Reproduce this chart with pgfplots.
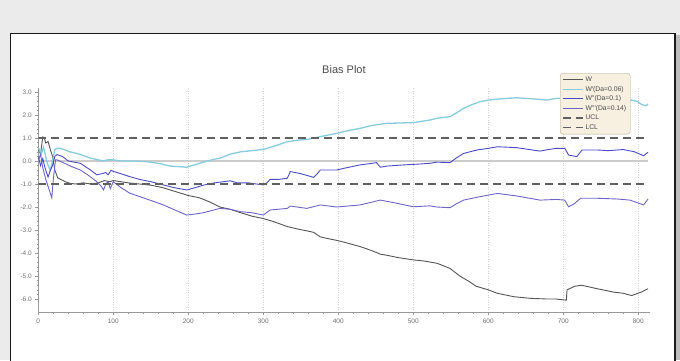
\documentclass[border=0pt]{standalone}
\usepackage{pgfplots}
\pgfplotsset{compat=1.18}
\usepackage{fontspec}
\setmainfont{Liberation Sans}
\definecolor{bgc}{HTML}{EBEBEB}
\definecolor{shc}{HTML}{BDBDBD}
\definecolor{wc}{HTML}{555555}
\definecolor{cyc}{HTML}{86CCDD}
\definecolor{b1c}{HTML}{4B4BC3}
\definecolor{b2c}{HTML}{6E64C8}
\definecolor{dashc}{HTML}{606060}
\definecolor{gridc}{HTML}{D0D0D8}
\definecolor{zeroc}{HTML}{CCCCCC}
\definecolor{legc}{HTML}{F7F0E1}
\definecolor{legb}{HTML}{B8A890}
\definecolor{labc}{HTML}{707070}
\begin{document}
\begin{tikzpicture}
\useasboundingbox (0pt,0pt) rectangle (680pt,360pt);
\fill[bgc] (0pt,0pt) rectangle (680pt,360pt);
\fill[shc] (675pt,0pt) rectangle (680pt,325pt);
\filldraw[fill=white, draw=black!90, line width=1.2pt] (10.5pt,-5pt) rectangle (675pt,326.5pt);
\begin{axis}[
  at={(38.3pt,48pt)}, anchor=south west,
  scale only axis, width=611.25pt, height=224pt,
  xmin=0, xmax=815, ymin=-6.565, ymax=3.174,
  axis x line=bottom, axis y line=left,
  axis line style={-, draw=black!40, line width=0.6pt},
  xtick={0,100,...,800}, ytick={-6,-5,...,3},
  minor x tick num=4, minor y tick num=4,
  tick align=outside, major tick length=3pt, minor tick length=1.5pt,
  tick style={black!40, line width=0.5pt},
  xmajorgrids, grid style={gridc, dotted, line width=0.7pt},
  yticklabel style={/pgf/number format/.cd, fixed, fixed zerofill, precision=1},
  /pgf/number format/assume math mode=true,
  ticklabel style={font=\fontsize{6.5}{7}\selectfont, text=labc},
  title={Bias Plot},
  title style={at={(axis description cs:0.5,1)}, anchor=base, yshift=9pt, font=\fontsize{11}{12}\selectfont, text=black!70},
  legend style={at={(0.8535,1.067)}, anchor=north west, fill=legc, draw=legb, rounded corners=3pt,
    font=\fontsize{6.8}{7.5}\selectfont, text=black!70, inner xsep=2pt, inner ysep=1.5pt, row sep=-0.8pt},
  legend cell align=left,
  legend image code/.code={\draw[#1] (0pt,0pt) -- (20pt,0pt);},
]
\addplot[forget plot, zeroc, line width=1.4pt] coordinates {(0,0) (813,0)};
\addplot[wc, line width=0.9pt] coordinates {
(0,0.5) (3,0.3) (6,1.05) (8,1.0) (10,0.78) (13,0.85) (16,0.5) (19,0.2) (22,-0.39) (26,-0.74) (30,-0.8) (36,-0.9) (42,-0.97) (50,-1.0) (60,-0.95) (70,-1.0) (80,-0.95) (88,-0.85) (95,-0.9) (100,-0.85) (110,-0.9) (120,-0.95) (135,-1.0) (150,-1.05) (165,-1.15) (180,-1.3) (190,-1.4) (200,-1.5) (215,-1.6) (230,-1.8) (242,-2.0) (256,-2.1) (270,-2.25) (285,-2.4) (300,-2.5) (315,-2.65) (332,-2.85) (345,-2.95) (360,-3.05) (367,-3.1) (376,-3.3) (390,-3.4) (398,-3.45) (410,-3.55) (429,-3.72) (445,-3.9) (456,-4.05) (465,-4.1) (480,-4.2) (500,-4.3) (515,-4.35) (532,-4.45) (549,-4.67) (562,-5.0) (575,-5.25) (584,-5.45) (600,-5.6) (612,-5.75) (634,-5.9) (656,-5.97) (678,-6.0) (690,-6.0) (704,-6.05) (705,-5.6) (715,-5.45) (724,-5.4) (745,-5.55) (767,-5.7) (780,-5.75) (791,-5.85) (804,-5.7) (813,-5.55)};
\addlegendentry{W}
\addplot[cyc, line width=1.3pt] coordinates {
(0,0.6) (4,0.3) (7,0.6) (12,-0.1) (16,-0.4) (19,0.0) (22,0.5) (25,0.55) (30,0.55) (42,0.4) (55,0.3) (69,0.13) (80,0.05) (87,0.0) (92,0.05) (100,0.05) (110,0.0) (125,0.0) (145,-0.03) (160,-0.1) (176,-0.22) (190,-0.25) (198,-0.27) (210,-0.15) (220,-0.05) (235,0.08) (242,0.12) (256,0.3) (270,0.4) (285,0.45) (300,0.5) (315,0.65) (332,0.84) (345,0.9) (360,0.95) (376,1.06) (390,1.15) (398,1.2) (410,1.3) (429,1.42) (445,1.55) (465,1.64) (480,1.65) (500,1.67) (510,1.72) (522,1.78) (532,1.86) (549,1.93) (558,2.1) (567,2.29) (578,2.45) (589,2.58) (600,2.65) (615,2.7) (638,2.75) (660,2.7) (678,2.65) (690,2.72) (705,2.75) (720,2.72) (740,2.7) (760,2.68) (780,2.7) (790,2.65) (798,2.6) (805,2.45) (810,2.4) (813,2.48)};
\addlegendentry{W\textquotesingle(Da=0.06)}
\addplot[b1c, line width=0.9pt] coordinates {
(0,0.2) (3,-0.2) (6,0.1) (9,-0.3) (13,-0.7) (16,-0.4) (19,-0.2) (22,0.2) (25,0.28) (32,0.2) (40,0.0) (56,-0.1) (70,-0.4) (78,-0.6) (85,-0.55) (90,-0.5) (93,-0.6) (97,-0.4) (100,-0.45) (110,-0.55) (122,-0.68) (135,-0.8) (150,-0.9) (167,-1.04) (180,-1.15) (198,-1.26) (210,-1.15) (220,-1.05) (235,-0.95) (256,-0.86) (265,-0.95) (280,-0.95) (300,-1.04) (305,-0.95) (309,-0.8) (320,-0.8) (332,-0.75) (336,-0.46) (350,-0.55) (367,-0.71) (372,-0.55) (376,-0.39) (398,-0.39) (410,-0.3) (429,-0.17) (445,-0.1) (451,-0.07) (456,-0.27) (465,-0.22) (487,-0.17) (509,-0.13) (522,-0.1) (531,-0.05) (549,-0.07) (556,0.1) (567,0.33) (585,0.48) (600,0.55) (612,0.62) (638,0.58) (669,0.43) (680,0.5) (691,0.55) (702,0.55) (707,0.26) (718,0.19) (725,0.48) (745,0.48) (760,0.45) (780,0.5) (795,0.4) (807,0.23) (813,0.38)};
\addlegendentry{W\textquotesingle\textquotesingle(Da=0.1)}
\addplot[b2c, line width=0.9pt] coordinates {
(0,0.0) (3,0.3) (6,-0.3) (10,-0.8) (14,-1.2) (18,-1.6) (20,-0.8) (23,0.05) (25,0.05) (35,-0.1) (45,-0.25) (56,-0.39) (68,-0.65) (78,-0.9) (84,-1.1) (87,-1.26) (90,-1.0) (93,-0.9) (96,-1.2) (100,-0.9) (110,-1.15) (122,-1.4) (140,-1.6) (167,-1.91) (180,-2.1) (198,-2.35) (210,-2.3) (220,-2.25) (242,-2.06) (256,-2.1) (269,-2.2) (285,-2.25) (300,-2.35) (309,-2.13) (332,-2.06) (336,-1.96) (358,-2.06) (376,-1.91) (398,-2.0) (429,-1.91) (442,-1.81) (456,-1.7) (474,-1.81) (500,-1.99) (522,-1.95) (531,-2.0) (549,-2.03) (558,-1.85) (567,-1.7) (589,-1.55) (612,-1.41) (638,-1.52) (669,-1.7) (691,-1.67) (702,-1.7) (707,-1.99) (715,-1.85) (723,-1.62) (745,-1.62) (771,-1.65) (789,-1.7) (807,-1.91) (813,-1.65)};
\addlegendentry{W\textquotesingle\textquotesingle\textquotesingle(Da=0.14)}
\addplot[dashc, line width=1.2pt, dash pattern=on 8pt off 5pt] coordinates {(0,1) (813,1)};
\addlegendentry{UCL}
\addplot[dashc, line width=1.2pt, dash pattern=on 8pt off 5pt] coordinates {(0,-1) (813,-1)};
\addlegendentry{LCL}
\end{axis}
\end{tikzpicture}
\end{document}
